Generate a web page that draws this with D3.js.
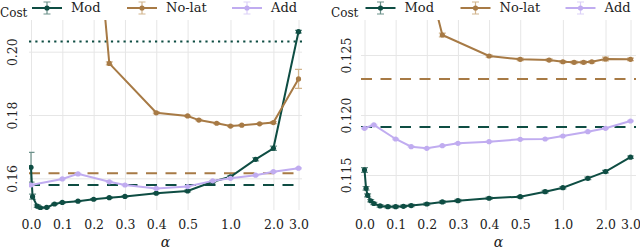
<!DOCTYPE html>
<html>
<head>
<meta charset="utf-8">
<script src="https://cdnjs.cloudflare.com/ajax/libs/d3/7.8.5/d3.min.js"></script>
<style>
body { margin: 0; background: #fff; }
svg { display: block; }
</style>
</head>
<body>
<script>
// alpha axis
const alphaTicks = [0, 0.1, 0.2, 0.3, 0.4, 0.5, 1, 2, 3];
const alphaLabels = ["0.0", "0.1", "0.2", "0.3", "0.4", "0.5", "1.0", "2.0", "3.0"];

// left panel
const leftCostTicks = [0.16, 0.18, 0.20];
const leftModX = [0, 0.005, 0.02, 0.03, 0.05, 0.075, 0.1, 0.15, 0.2, 0.25, 0.3, 0.4, 0.5, 0.75, 1, 1.5, 2, 3];
const leftModY = [0.1635, 0.1542, 0.1512, 0.1507, 0.1508, 0.1519, 0.1524, 0.1528, 0.1534, 0.1539, 0.1543, 0.1553, 0.1560, 0.1589, 0.1605, 0.1660, 0.1695, 0.2063];
const leftModErr = [0.0047, 0.0008, 0.0004, 0.0003, 0.0002, 0.0002, 0.0002, 0.0002, 0.0002, 0.0002, 0.0002, 0.0002, 0.0003, 0.0003, 0.0003, 0.0005, 0.0007, 0.0004];
const leftNolatX = [0.2, 0.25, 0.4, 0.5, 0.6, 0.8, 1, 1.2, 1.6, 2, 3];
const leftNolatY = [0.251, 0.1963, 0.1807, 0.1797, 0.1784, 0.1774, 0.1765, 0.1768, 0.1772, 0.1776, 0.1914];
const leftNolatErr = [0.001, 0.0005, 0.0003, 0.0002, 0.0002, 0.0002, 0.0002, 0.0002, 0.0002, 0.0003, 0.003];
const leftAddX = [0, 0.1, 0.15, 0.25, 0.3, 0.4, 0.5, 0.75, 1, 1.5, 2, 3];
const leftAddY = [0.1579, 0.1598, 0.1614, 0.1589, 0.1579, 0.1568, 0.1574, 0.1592, 0.1600, 0.1610, 0.1621, 0.1632];
const leftAddErr = [0.0002, 0.0002, 0.0002, 0.0002, 0.0002, 0.0002, 0.0002, 0.0002, 0.0002, 0.0002, 0.0002, 0.0002];
const leftRefs = [0.2032, 0.1616, 0.1579]; // Mod dotted, No-lat dashed, Mod dashed

// right panel
const rightCostTicks = [0.115, 0.120, 0.125];
const rightModX = [0, 0.005, 0.01, 0.02, 0.03, 0.05, 0.075, 0.1, 0.125, 0.15, 0.2, 0.25, 0.3, 0.4, 0.5, 0.75, 1, 1.5, 2, 3];
const rightModY = [0.11542, 0.11389, 0.11330, 0.11285, 0.11262, 0.11242, 0.11236, 0.11236, 0.11239, 0.11245, 0.11258, 0.11275, 0.11286, 0.11306, 0.11319, 0.11361, 0.11394, 0.11472, 0.11528, 0.11648];
const rightModErr = [0.0002, 0.00015, 0.00012, 0.0001, 0.0001, 0.0001, 0.0001, 0.0001, 0.0001, 0.0001, 0.0001, 0.0001, 0.0001, 0.0001, 0.0001, 0.0001, 0.0001, 0.0001, 0.0001, 0.0001];
const rightNolatX = [0.2, 0.25, 0.4, 0.5, 0.8, 1, 1.2, 1.4, 1.6, 2, 3];
const rightNolatY = [0.1318, 0.12667, 0.12492, 0.12464, 0.12458, 0.12444, 0.12439, 0.12439, 0.12444, 0.12467, 0.12464];
const rightNolatErr = [0.0002, 0.00015, 0.0001, 0.0001, 0.0001, 0.0001, 0.0001, 0.0001, 0.0001, 0.00015, 0.0001];
const rightAddX = [0, 0.03, 0.1, 0.15, 0.2, 0.25, 0.3, 0.4, 0.5, 0.75, 1, 1.5, 2, 3];
const rightAddY = [0.11889, 0.11917, 0.11800, 0.11736, 0.11722, 0.11744, 0.11764, 0.11778, 0.11797, 0.11800, 0.11825, 0.11861, 0.11889, 0.11950];
const rightAddErr = [0.00005, 0.00005, 0.00005, 0.00005, 0.00005, 0.00005, 0.00005, 0.00005, 0.00005, 0.00005, 0.00005, 0.00005, 0.00005, 0.00005];
const rightRefs = [0.1230, 0.1190]; // No-lat dashed, Mod dashed

const names = ["Mod", "No-lat", "Add"];
const colors = ["#0e4d43", "#a77a45", "#c0acf0"];
const errColors = ["#6c918a", "#d2b58e", "#dcd1f8"];

const serif = "DejaVu Serif";
const fs = 12.5;
const width = 640, height = 250;
const yTop = 20, yBottom = 210;

// linear up to 0.5, log above
function warp(a) {
    return a <= 0.5 ? a * 10 : 5 + Math.log2(a / 0.5) * 1.37;
}

const panels = [
    {
        plot: [29, 302], data: [31, 298.5], yDomain: [0.1500, 0.2100], yTicks: leftCostTicks, labelOff: -12, costX: 0,
        series: [
            { x: leftModX, y: leftModY, err: leftModErr },
            { x: leftNolatX, y: leftNolatY, err: leftNolatErr },
            { x: leftAddX, y: leftAddY, err: leftAddErr }
        ],
        refs: [
            { v: leftRefs[0], c: 0, dash: "2.2,4.1" },
            { v: leftRefs[1], c: 1, dash: "11,8.5" },
            { v: leftRefs[2], c: 0, dash: "11,8.5" }
        ]
    },
    {
        plot: [361, 636], data: [364.5, 630.5], yDomain: [0.11208, 0.12792], yTicks: rightCostTicks, labelOff: -10, costX: 331,
        series: [
            { x: rightModX, y: rightModY, err: rightModErr },
            { x: rightNolatX, y: rightNolatY, err: rightNolatErr },
            { x: rightAddX, y: rightAddY, err: rightAddErr }
        ],
        refs: [
            { v: rightRefs[0], c: 1, dash: "11,8.5" },
            { v: rightRefs[1], c: 0, dash: "11,8.5" }
        ]
    }
];

const svg = d3.select("body").append("svg")
    .attr("width", width)
    .attr("height", height)
    .style("font-family", serif);

panels.forEach(function(p, pi) {
    const x = d3.scaleLinear()
        .domain([warp(0), warp(3)])
        .range(p.data);
    const y = d3.scaleLinear()
        .domain(p.yDomain)
        .range([yBottom, yTop]);
    const pw = p.plot[1] - p.plot[0];

    svg.append("clipPath")
        .attr("id", "clip" + pi)
        .append("rect")
        .attr("x", p.plot[0])
        .attr("y", yTop)
        .attr("width", pw)
        .attr("height", yBottom - yTop);

    // vertical grid + alpha labels
    const gx = svg.append("g")
        .attr("transform", "translate(0," + yBottom + ")")
        .call(d3.axisBottom(x)
            .tickValues(alphaTicks.map(warp))
            .tickFormat((d, i) => alphaLabels[i])
            .tickSize(-(yBottom - yTop)));
    gx.select(".domain").remove();
    gx.attr("font-size", null).attr("font-family", null);
    gx.selectAll("line").attr("stroke", "#e6e6e6");
    gx.selectAll("text")
        .attr("y", 19)
        .attr("dy", 0)
        .attr("fill", "#222")
        .style("font-family", serif)
        .style("font-size", fs + "px");

    // horizontal grid + rotated cost labels
    const gy = svg.append("g")
        .attr("transform", "translate(" + p.plot[0] + ",0)")
        .call(d3.axisLeft(y)
            .tickValues(p.yTicks)
            .tickFormat(p.yTicks[0] < 0.15 ? d3.format(".3f") : d3.format(".2f"))
            .tickSize(-pw));
    gy.select(".domain").remove();
    gy.attr("font-size", null).attr("font-family", null);
    gy.selectAll("line").attr("stroke", "#e6e6e6");
    gy.selectAll("text")
        .attr("transform", "rotate(-90)")
        .attr("x", 0)
        .attr("y", p.labelOff)
        .attr("dy", 0)
        .attr("text-anchor", "middle")
        .attr("fill", "#222")
        .style("font-family", serif)
        .style("font-size", fs + "px");

    svg.append("text")
        .attr("x", p.costX)
        .attr("y", 17)
        .style("font-family", serif)
        .style("font-size", "12px")
        .attr("fill", "#222")
        .text("Cost");

    svg.append("text")
        .attr("x", (p.plot[0] + p.plot[1]) / 2)
        .attr("y", 247)
        .attr("text-anchor", "middle")
        .style("font-family", serif)
        .style("font-size", "14px")
        .style("font-style", "italic")
        .attr("fill", "#222")
        .text("α");

    const plot = svg.append("g").attr("clip-path", "url(#clip" + pi + ")");

    plot.selectAll(".ref")
        .data(p.refs)
        .enter().append("line")
        .attr("class", "ref")
        .attr("x1", p.plot[0])
        .attr("x2", p.plot[1])
        .attr("y1", d => y(d.v))
        .attr("y2", d => y(d.v))
        .attr("stroke", d => colors[d.c])
        .attr("stroke-width", 2)
        .attr("stroke-dasharray", d => d.dash);

    p.series.forEach(function(s, si) {
        const pts = s.x.map((a, i) => ({ a: a, v: s.y[i], e: s.err[i] }));
        const g = plot.append("g");

        g.selectAll(".eb")
            .data(pts)
            .enter().append("path")
            .attr("class", "eb")
            .attr("d", d => {
                const cx = x(warp(d.a)), y0 = y(d.v - d.e), y1 = y(d.v + d.e);
                return "M" + cx + "," + y0 + "V" + y1 +
                    "M" + (cx - 3.5) + "," + y0 + "H" + (cx + 3.5) +
                    "M" + (cx - 3.5) + "," + y1 + "H" + (cx + 3.5);
            })
            .attr("fill", "none")
            .attr("stroke", errColors[si])
            .attr("stroke-width", 1.2);

        g.append("path")
            .datum(pts)
            .attr("fill", "none")
            .attr("stroke", colors[si])
            .attr("stroke-width", 2)
            .attr("d", d3.line().x(d => x(warp(d.a))).y(d => y(d.v)));

        g.selectAll(".dot")
            .data(pts)
            .enter().append("circle")
            .attr("class", "dot")
            .attr("r", 2.6)
            .attr("cx", d => x(warp(d.a)))
            .attr("cy", d => y(d.v))
            .attr("fill", colors[si]);
    });

    // legend
    const lx = p.data[0] + 1;
    const offs = [0, 95, 200];
    names.forEach(function(n, i) {
        const g = svg.append("g")
            .attr("transform", "translate(" + (lx + offs[i]) + ",8)");
        g.append("line")
            .attr("x1", 0).attr("x2", 30)
            .attr("stroke", colors[i])
            .attr("stroke-width", 2);
        g.append("path")
            .attr("d", "M15,-6V6M11.5,-6H18.5M11.5,6H18.5")
            .attr("fill", "none")
            .attr("stroke", errColors[i])
            .attr("stroke-width", 1.2);
        g.append("circle")
            .attr("cx", 15)
            .attr("r", 2.6)
            .attr("fill", colors[i]);
        g.append("text")
            .attr("x", 39)
            .attr("y", 4)
            .style("font-family", serif)
            .style("font-size", "13px")
            .attr("fill", "#222")
            .text(n);
    });
});
</script>
</body>
</html>
